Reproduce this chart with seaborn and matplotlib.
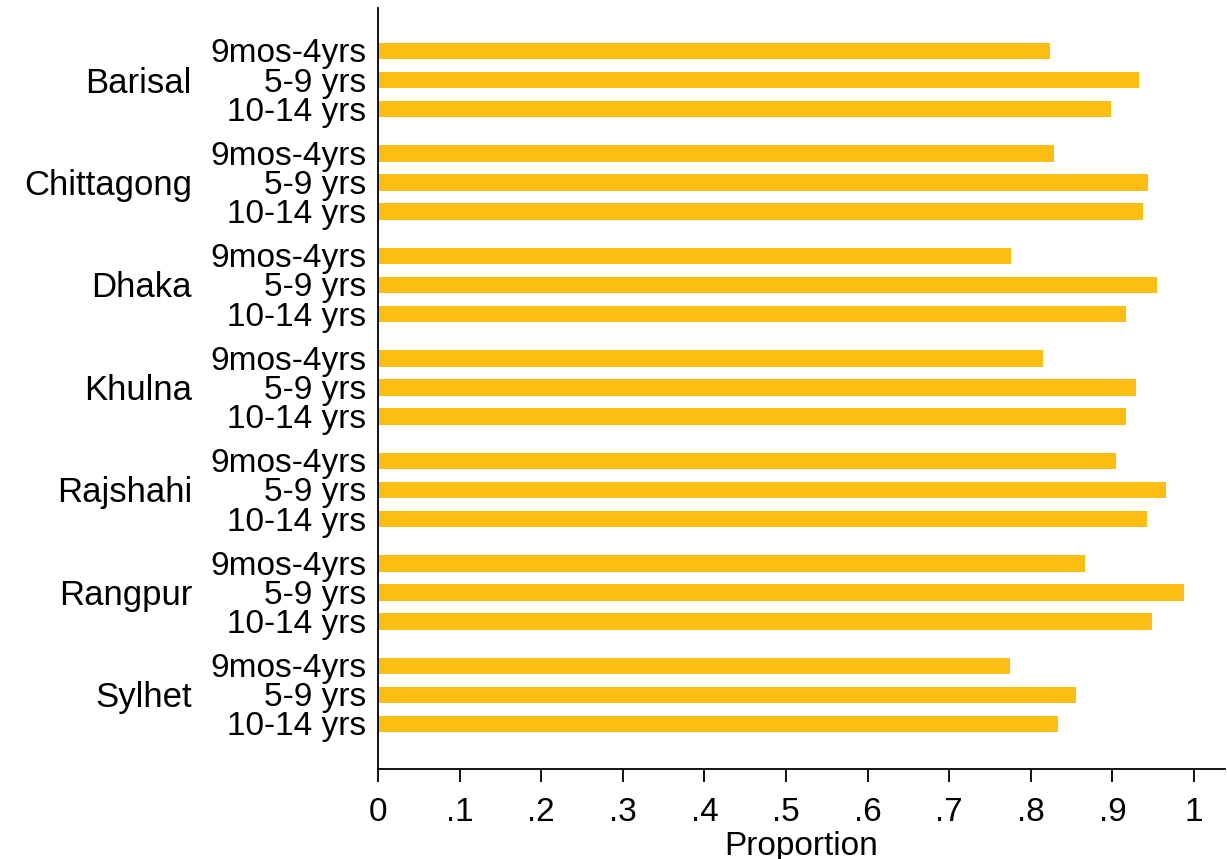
import numpy as np
import pandas as pd
import matplotlib
matplotlib.use("Agg")
import matplotlib.pyplot as plt
import matplotlib.transforms as mtransforms
import seaborn as sns

regions = ["Barisal", "Chittagong", "Dhaka", "Khulna", "Rajshahi", "Rangpur", "Sylhet"]
age_groups = ["9mos-4yrs", "5-9 yrs", "10-14 yrs"]
prop_9mos_4yrs = [0.823, 0.828, 0.776, 0.815, 0.905, 0.867, 0.774]
prop_5_9 = [0.932, 0.944, 0.955, 0.929, 0.966, 0.988, 0.855]
prop_10_14 = [0.898, 0.937, 0.917, 0.917, 0.943, 0.948, 0.833]
xticks = [0, 0.1, 0.2, 0.3, 0.4, 0.5, 0.6, 0.7, 0.8, 0.9, 1.0]
xtick_labels = ["0", ".1", ".2", ".3", ".4", ".5", ".6", ".7", ".8", ".9", "1"]

BAR_COLOR = "#FCBE11"
GROUP_STEP = 3.53  # bar slots per region, including the gap between regions

rows = []
series = [prop_9mos_4yrs, prop_5_9, prop_10_14]
for g, region in enumerate(regions):
    for a, age in enumerate(age_groups):
        rows.append({"region": region, "age": age,
                     "pos": g * GROUP_STEP + a, "prop": series[a][g]})
df = pd.DataFrame(rows)

sns.set_theme(style="white")
plt.rcParams["font.family"] = ["Liberation Sans", "DejaVu Sans"]
plt.rcParams["text.color"] = "black"
plt.rcParams["axes.labelcolor"] = "black"
plt.rcParams["xtick.color"] = "black"
plt.rcParams["ytick.color"] = "black"

fig = plt.figure(figsize=(12.27, 8.59), dpi=100)
ax = fig.add_axes([378 / 1227, 1 - 769 / 859, (1225 - 378) / 1227, (769 - 8) / 859])

sns.barplot(data=df, x="prop", y="pos", orient="h", native_scale=True,
            color=BAR_COLOR, saturation=1, width=0.56, errorbar=None,
            linewidth=0, ax=ax)

ax.set_xlim(0, 1.038)
ax.set_ylim(df["pos"].max() + 1.55, -1.48)

ax.set_xticks(xticks)
ax.set_xticklabels(xtick_labels, fontsize=24, color="black")
ax.tick_params(axis="x", direction="out", length=9.5, width=1.3, color="black",
               pad=11, bottom=True)

# small downward nudge for the left-hand labels
nudge = mtransforms.ScaledTranslation(0, -0.03, fig.dpi_scale_trans)

ax.set_yticks(df["pos"])
ax.set_yticklabels(df["age"], fontsize=24, color="black")
ax.tick_params(axis="y", length=0, pad=8.5)
for lab in ax.get_yticklabels():
    lab.set_verticalalignment("center")
    lab.set_transform(lab.get_transform() + nudge)

for side in ["top", "right"]:
    ax.spines[side].set_visible(False)
for side in ["left", "bottom"]:
    ax.spines[side].set_color("black")
    ax.spines[side].set_linewidth(1.3)

ax.set_xlabel("Proportion", fontsize=24, labelpad=2, color="black")
ax.set_ylabel("")
ax.grid(False)

trans = mtransforms.blended_transform_factory(fig.transFigure, ax.transData) + nudge
for g, region in enumerate(regions):
    ax.text(192 / 1227, g * GROUP_STEP + 1, region, transform=trans,
            ha="right", va="center", fontsize=25, color="black")

fig.savefig("out.png", dpi=100)
